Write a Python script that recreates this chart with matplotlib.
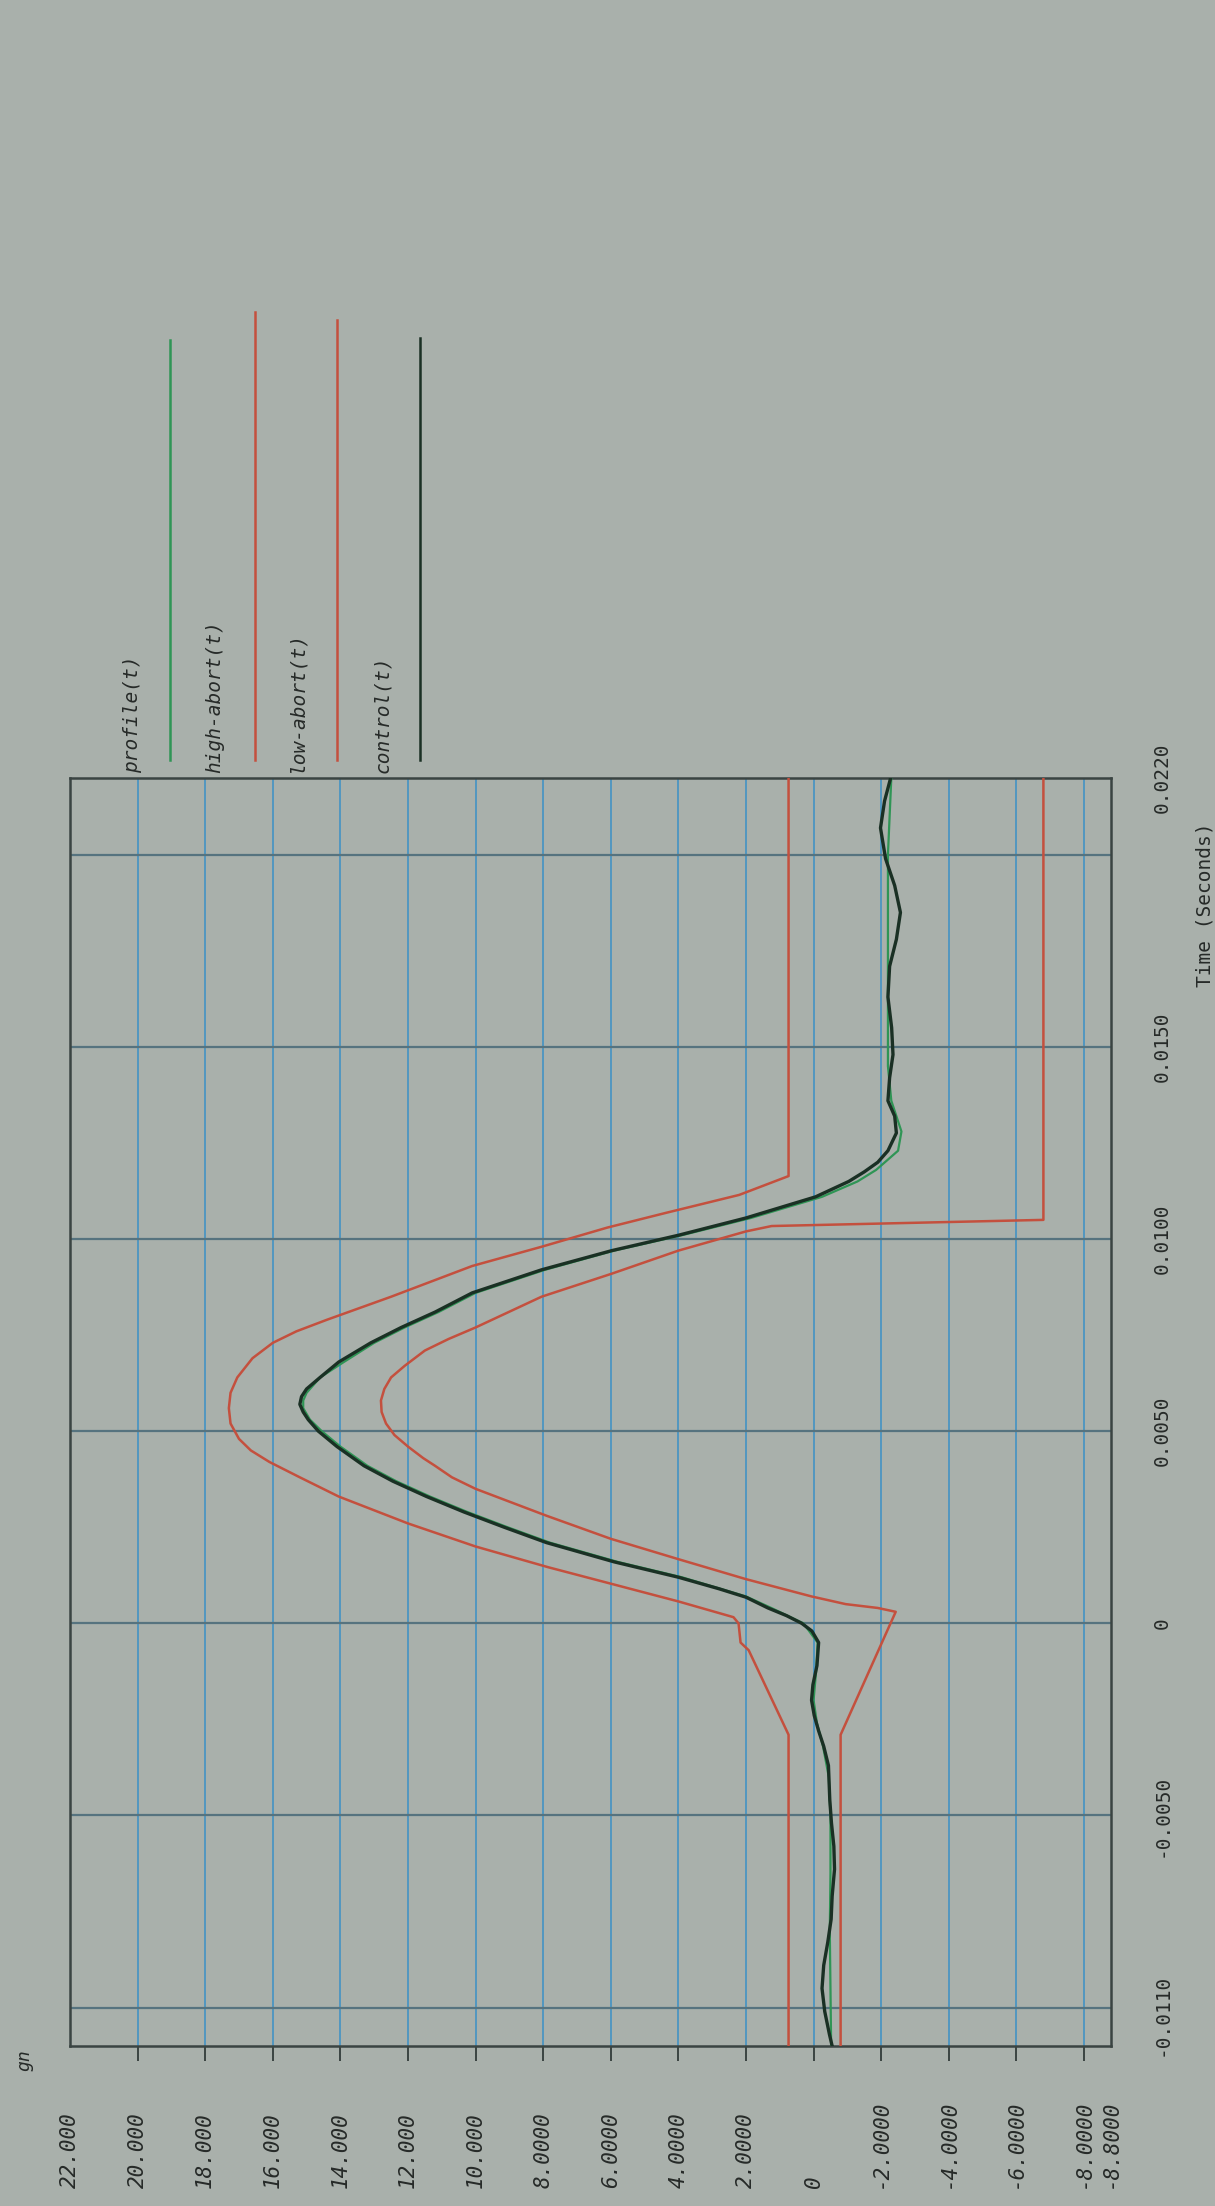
import matplotlib.pyplot as plt
import numpy as np
from matplotlib.lines import Line2D
from matplotlib.transforms import blended_transform_factory

# time (s) / acceleration (gn)
ctrl_t = [-0.0110, -0.0107, -0.0101, -0.0095, -0.0089, -0.0083, -0.0077, -0.0071,
          -0.0064, -0.0058, -0.0052, -0.0046, -0.0037, -0.0032, -0.0028, -0.0024,
          -0.0020, -0.0016, -0.0011, -0.0005, -0.0002, 0.0000, 0.0002, 0.0004,
          0.00068, 0.0009, 0.0012, 0.0016, 0.0021, 0.0025, 0.0029, 0.0033, 0.0037,
          0.0041, 0.0046, 0.0050, 0.0053, 0.0055, 0.0057, 0.0059, 0.0061, 0.0064,
          0.0068, 0.0073, 0.0077, 0.0081, 0.0086, 0.0092, 0.0097, 0.0101, 0.01055,
          0.0111, 0.0115, 0.01175, 0.0120, 0.0123, 0.01276, 0.0132, 0.0136, 0.0142,
          0.0148, 0.0155, 0.0163, 0.0171, 0.0178, 0.0185, 0.0192, 0.0199, 0.0207,
          0.0214, 0.0220]
ctrl_g = [-0.55, -0.47, -0.33, -0.25, -0.30, -0.42, -0.52, -0.55,
          -0.62, -0.60, -0.53, -0.48, -0.44, -0.30, -0.15, -0.02,
          0.06, 0.02, -0.10, -0.15, 0.05, 0.35, 0.80, 1.35,
          2.0, 2.8, 4.0, 5.9, 7.9, 9.15, 10.35, 11.45, 12.45,
          13.3, 14.1, 14.65, 14.95, 15.1, 15.2, 15.15, 15.0, 14.6,
          14.05, 13.1, 12.2, 11.2, 10.1, 8.05, 5.97, 4.0, 2.0,
          -0.06, -1.04, -1.5, -1.9, -2.2, -2.45, -2.4, -2.2, -2.25,
          -2.35, -2.31, -2.2, -2.25, -2.45, -2.57, -2.4, -2.13, -1.98,
          -2.1, -2.28]

prof_t = [-0.0110, -0.0095, -0.0080, -0.0065, -0.0050, -0.0040, -0.0032, -0.0026,
          -0.0020, -0.0012, -0.0005, 0.0000, 0.0004, 0.0007, 0.0012, 0.0016,
          0.0021, 0.0025, 0.0029, 0.0033, 0.0037, 0.0041, 0.0046, 0.0050, 0.0053,
          0.0056, 0.0058, 0.0060, 0.0064, 0.0068, 0.0073, 0.0077, 0.0081, 0.0086,
          0.0092, 0.0097, 0.0101, 0.01055, 0.0111, 0.0115, 0.0118, 0.0123, 0.0128,
          0.0132, 0.0136, 0.0145, 0.0160, 0.0180, 0.0200, 0.0220]
prof_g = [-0.52, -0.50, -0.48, -0.50, -0.50, -0.45, -0.28, -0.10,
          0.0, -0.08, -0.12, 0.30, 1.25, 2.0, 3.9, 5.8,
          7.8, 9.05, 10.25, 11.35, 12.35, 13.2, 14.0, 14.55, 14.9,
          15.1, 15.1, 15.0, 14.6, 13.9, 13.0, 12.1, 11.1, 10.0,
          7.95, 5.9, 3.9, 1.85, -0.25, -1.3, -1.85, -2.5, -2.6,
          -2.45, -2.3, -2.2, -2.2, -2.2, -2.2, -2.3]

high_t = [-0.0110, -0.0029, -0.0007, -0.0005, 0.0000, 0.00016, 0.00057, 0.00146,
          0.0020, 0.0026, 0.0033, 0.0038, 0.0042, 0.0045, 0.0048, 0.0052, 0.0056,
          0.0060, 0.0064, 0.0069, 0.0073, 0.0076, 0.0079, 0.0082, 0.0085, 0.0093,
          0.0098, 0.0103, 0.01068, 0.01115, 0.01164, 0.0220]
high_g = [0.74, 0.74, 1.92, 2.16, 2.22, 2.37, 4.0, 7.85,
          10.0, 12.0, 14.05, 15.2, 16.1, 16.65, 17.0, 17.25, 17.3,
          17.25, 17.05, 16.6, 16.0, 15.3, 14.4, 13.45, 12.5, 10.1,
          8.05, 6.1, 4.38, 2.2, 0.74, 0.74]

low_t = [-0.0110, -0.0029, 0.0003, 0.0004, 0.0005, 0.0007, 0.00115, 0.00167,
         0.0022, 0.0028, 0.0031, 0.0035, 0.0038, 0.0041, 0.0043, 0.0046, 0.0049,
         0.0052, 0.0055, 0.0058, 0.0061, 0.0064, 0.0067, 0.0071, 0.0074, 0.0077,
         0.0085, 0.0091, 0.0097, 0.0102, 0.01034, 0.0105, 0.0220]
low_g = [-0.80, -0.80, -2.43, -1.9, -0.95, 0.06, 2.0, 4.0,
         6.0, 7.9, 8.8, 10.0, 10.7, 11.2, 11.55, 12.0, 12.4,
         12.65, 12.78, 12.8, 12.7, 12.5, 12.1, 11.5, 10.8, 10.0,
         8.05, 5.97, 4.0, 2.0, 1.24, -6.8, -6.8]

gn_ticks = [22, 20, 18, 16, 14, 12, 10, 8, 6, 4, 2, 0, -2, -4, -6, -8, -8.8]
gn_labels = ["22.000", "20.000", "18.000", "16.000", "14.000", "12.000", "10.000",
             "8.0000", "6.0000", "4.0000", "2.0000", "0", "-2.0000", "-4.0000",
             "-6.0000", "-8.0000", "-8.8000"]
t_ticks = [-0.011, -0.005, 0.0, 0.005, 0.010, 0.015, 0.022]
t_labels = ["-0.0110", "-0.0050", "0", "0.0050", "0.0100", "0.0150", "0.0220"]

names = ["profile(t)", "high-abort(t)", "low-abort(t)", "control(t)"]
colors = ["#2f9555", "#c4503e", "#c4503e", "#1a3024"]

W, H = 1215, 2206
bg = "#a9b0ab"
txt = "#262a28"
mono = "DejaVu Sans Mono"

fig = plt.figure(figsize=(W / 100, H / 100), dpi=100, facecolor=bg)
# plot is photographed turned on its side: gn runs left->right, time bottom->top
x0, x1, ytop, ybot = 70, 1111, 778, 2046
ax = fig.add_axes([x0 / W, 1 - ybot / H, (x1 - x0) / W, (ybot - ytop) / H])
ax.set_facecolor(bg)

ax.plot(high_g, high_t, color=colors[1], lw=1.8, zorder=3)
ax.plot(low_g, low_t, color=colors[2], lw=1.8, zorder=3)
ax.plot(prof_g, prof_t, color=colors[0], lw=1.6, zorder=4)
ax.plot(ctrl_g, ctrl_t, color=colors[3], lw=2.4, zorder=5)

ax.set_xlim(22, -8.8)
ax.set_ylim(-0.011, 0.022)

ax.set_xticks(np.arange(20, -9, -2))
ax.set_yticks(np.arange(-0.010, 0.0201, 0.005))
ax.set_xticklabels([])
ax.set_yticklabels([])
ax.xaxis.grid(True, color="#4b95c2", lw=1.3)
ax.yaxis.grid(True, color="#56737f", lw=1.6)
ax.set_axisbelow(True)
ax.tick_params(axis="x", direction="out", length=11, width=1.4, color="#3a4442")
ax.tick_params(axis="y", length=0)
for s in ax.spines.values():
    s.set_color("#3a4442")
    s.set_linewidth(1.8)

# gn labels under the frame, starting from a common baseline
bt = blended_transform_factory(ax.transData, ax.transAxes)
ylab = -(2188 - ybot) / (ybot - ytop)
for v, lab in zip(gn_ticks, gn_labels):
    ax.text(v, ylab, lab, transform=bt, rotation=90, ha="center", va="bottom",
            fontsize=15, family=mono, style="italic", color=txt)

# time labels right of the frame
bt2 = blended_transform_factory(ax.transAxes, ax.transData)
for v, lab in zip(t_ticks, t_labels):
    pos = -0.0102 if v == -0.011 else v
    ax.text(1.04, pos, lab, transform=bt2, rotation=90, ha="left", va="center",
            fontsize=14, family=mono, color=txt)

fig.text(1205 / W, 1 - 905 / H, "Time (Seconds)", rotation=90, ha="center",
         va="center", fontsize=14, family=mono, color=txt)
fig.text(24 / W, 1 - 2060 / H, "gn", rotation=90, ha="center", va="center",
         fontsize=13, family=mono, style="italic", color=txt)

# legend: label text then a long line, both turned on their side
leg_text_x = [133, 215, 297, 383]
leg_line_x = [170, 255, 337, 420]
leg_line_top = [340, 312, 320, 338]
for name, c, tx, lx, ltop in zip(names, colors, leg_text_x, leg_line_x, leg_line_top):
    fig.text(tx / W, 1 - 773 / H, name, rotation=90, ha="center", va="bottom",
             fontsize=14, family=mono, style="italic", color=txt)
    fig.add_artist(Line2D([lx / W, lx / W], [1 - 760 / H, 1 - ltop / H],
                          transform=fig.transFigure, color=c, lw=1.8))

fig.savefig("out.png", dpi=100, facecolor=bg)
